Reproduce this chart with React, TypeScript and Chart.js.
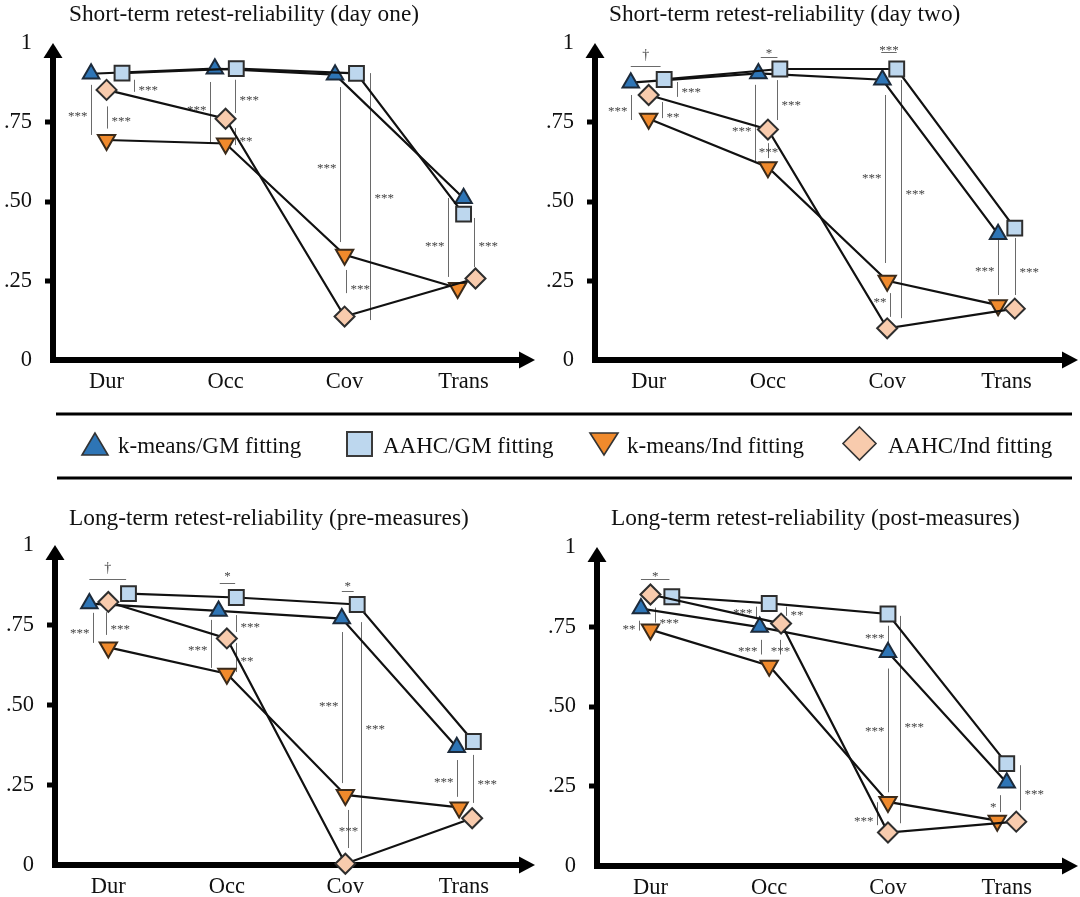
import React, { useEffect, useRef } from 'react';
import { Chart, registerables } from 'chart.js';

Chart.register(...registerables);

const FONT = '"Liberation Serif", "Times New Roman", serif';

// ---------- shared axis content ----------
const CATEGORIES = ['Dur', 'Occ', 'Cov', 'Trans'];
const Y_TICK_LABELS = ['0', '.25', '.50', '.75', '1'];
const SERIES_LABELS = ['k-means/GM fitting', 'AAHC/GM fitting', 'k-means/Ind fitting', 'AAHC/Ind fitting'];

// ---------- Short-term (day one) ----------
const DAY1_TITLE = 'Short-term retest-reliability (day one)';
const DAY1_KMEANS_GM = [0.903, 0.919, 0.9, 0.51];
const DAY1_AAHC_GM = [0.905, 0.919, 0.904, 0.46];
const DAY1_KMEANS_IND = [0.694, 0.683, 0.332, 0.227];
const DAY1_AAHC_IND = [0.852, 0.761, 0.137, 0.257];

// ---------- Short-term (day two) ----------
const DAY2_TITLE = 'Short-term retest-reliability (day two)';
const DAY2_KMEANS_GM = [0.875, 0.904, 0.884, 0.397];
const DAY2_AAHC_GM = [0.885, 0.918, 0.918, 0.416];
const DAY2_KMEANS_IND = [0.761, 0.608, 0.25, 0.173];
const DAY2_AAHC_IND = [0.836, 0.727, 0.1, 0.162];

// ---------- Long-term (pre-measures) ----------
const PRE_TITLE = 'Long-term retest-reliability (pre-measures)';
const PRE_KMEANS_GM = [0.817, 0.794, 0.77, 0.368];
const PRE_AAHC_GM = [0.848, 0.836, 0.814, 0.386];
const PRE_KMEANS_IND = [0.68, 0.598, 0.219, 0.18];
const PRE_AAHC_IND = [0.822, 0.708, 0.004, 0.146];

// ---------- Long-term (post-measures) ----------
const POST_TITLE = 'Long-term retest-reliability (post-measures)';
const POST_KMEANS_GM = [0.807, 0.749, 0.67, 0.261];
const POST_AAHC_GM = [0.844, 0.823, 0.79, 0.321];
const POST_KMEANS_IND = [0.741, 0.628, 0.201, 0.142];
const POST_AAHC_IND = [0.851, 0.76, 0.105, 0.139];

// significance marks: [category, offset, from, to, label, label side, label value]
type Sig = [number, number, number, number, string, string, number];
// brackets: [category, offset from, offset to, value, label, label value]
type Bracket = [number, number, number, number, string, number];

const DAY1_SIG: Sig[] = [
  [0, -0.13, 0.868, 0.71, '***', 'l', 0.78],
  [0, 0, 0.8, 0.73, '***', 'r', 0.763],
  [0, 0.23, 0.884, 0.846, '***', 'r', 0.861],
  [1, -0.13, 0.877, 0.684, '***', 'l', 0.798],
  [1, 0.08, 0.884, 0.779, '***', 'r', 0.829],
  [1, 0.08, 0.732, 0.678, '**', 'r', 0.7],
  [2, -0.04, 0.861, 0.372, '***', 'l', 0.615],
  [2, 0.21, 0.905, 0.126, '***', 'r', 0.52],
  [2, 0.01, 0.284, 0.211, '***', 'r', 0.234],
  [3, -0.13, 0.511, 0.262, '***', 'l', 0.369],
  [3, 0.09, 0.448, 0.293, '***', 'r', 0.37],
];
const DAY1_BRACKETS: Bracket[] = [];

const DAY2_SIG: Sig[] = [
  [0, -0.15, 0.836, 0.757, '***', 'l', 0.795],
  [0, 0.11, 0.814, 0.763, '**', 'r', 0.776],
  [0, 0.24, 0.877, 0.83, '***', 'r', 0.855],
  [1, -0.11, 0.868, 0.621, '***', 'l', 0.732],
  [1, 0.08, 0.883, 0.757, '***', 'r', 0.814],
  [1, 0, 0.684, 0.637, '***', 'c', 0.665],
  [2, -0.02, 0.836, 0.306, '***', 'l', 0.584],
  [2, 0.12, 0.883, 0.132, '***', 'r', 0.533],
  [2, 0.02, 0.211, 0.136, '**', 'l', 0.192],
  [3, -0.07, 0.385, 0.205, '***', 'l', 0.29],
  [3, 0.07, 0.385, 0.205, '***', 'r', 0.287],
];
const DAY2_BRACKETS: Bracket[] = [
  [0, -0.15, 0.1, 0.928, '†', 0.962],
  [1, -0.06, 0.08, 0.956, '*', 0.978],
  [2, -0.05, 0.08, 0.972, '***', 0.988],
];

const PRE_SIG: Sig[] = [
  [0, -0.13, 0.788, 0.694, '***', 'l', 0.734],
  [0, -0.02, 0.79, 0.719, '***', 'r', 0.747],
  [1, -0.13, 0.766, 0.616, '***', 'l', 0.681],
  [1, 0.08, 0.781, 0.728, '***', 'r', 0.753],
  [1, 0.08, 0.694, 0.603, '**', 'r', 0.647],
  [2, -0.03, 0.728, 0.256, '***', 'l', 0.506],
  [2, 0.13, 0.759, 0.037, '***', 'r', 0.434],
  [2, 0.02, 0.172, 0.053, '***', 'c', 0.115],
  [3, -0.06, 0.328, 0.213, '***', 'l', 0.269],
  [3, 0.08, 0.344, 0.194, '***', 'r', 0.262],
];
const PRE_BRACKETS: Bracket[] = [
  [0, -0.16, 0.15, 0.894, '†', 0.928],
  [1, -0.06, 0.07, 0.881, '*', 0.912],
  [2, -0.03, 0.07, 0.856, '*', 0.88],
];

const POST_SIG: Sig[] = [
  [0, -0.1, 0.769, 0.738, '**', 'l', 0.753],
  [0, 0.04, 0.81, 0.763, '***', 'r', 0.772],
  [1, -0.11, 0.813, 0.775, '***', 'l', 0.803],
  [1, 0.14, 0.813, 0.784, '**', 'r', 0.797],
  [1, -0.07, 0.709, 0.663, '***', 'l', 0.684],
  [1, 0.09, 0.709, 0.663, '***', 'c', 0.684],
  [2, 0, 0.753, 0.7, '***', 'l', 0.725],
  [2, 0, 0.619, 0.231, '***', 'l', 0.434],
  [2, 0.1, 0.784, 0.134, '***', 'r', 0.444],
  [2, -0.09, 0.2, 0.128, '***', 'l', 0.15],
  [3, -0.06, 0.222, 0.169, '*', 'l', 0.194],
  [3, 0.11, 0.316, 0.175, '***', 'r', 0.234],
];
const POST_BRACKETS: Bracket[] = [[0, -0.08, 0.16, 0.9, '*', 0.919]];

// horizontal dodge of each series' markers within a category (style, in category units)
const DAY1_DODGE = [[-0.13, -0.09, -0.08, 0], [0.13, 0.09, 0.1, 0], [0, 0, 0, -0.05], [0, 0, 0, 0.1]];
const DAY2_DODGE = [[-0.15, -0.08, -0.04, -0.07], [0.13, 0.1, 0.08, 0.07], [0, 0, 0, -0.07], [0, 0, 0, 0.07]];
const PRE_DODGE = [[-0.16, -0.07, -0.03, -0.06], [0.17, 0.08, 0.1, 0.08], [0, 0, 0, -0.04], [0, 0, 0, 0.07]];
const POST_DODGE = [[-0.08, -0.08, 0, 0], [0.18, 0, 0, 0], [0, 0, 0, -0.08], [0, 0.1, 0, 0.08]];

const SERIES_STYLE = [
  { pointStyle: 'triangle', rotation: 0, radius: 9.5, fill: '#2E75B6', stroke: '#1c2a3a' },
  { pointStyle: 'rect', rotation: 0, radius: 10.5, fill: '#BDD7EE', stroke: '#2e2e2e' },
  { pointStyle: 'triangle', rotation: 180, radius: 10, fill: '#F08A2C', stroke: '#3a2a1a' },
  { pointStyle: 'rectRot', rotation: 0, radius: 10, fill: '#F8CBAD', stroke: '#2e2e2e' },
];

const PANELS = [
  { left: 0, top: 0, axisX: 53, axisY: 360, tipTop: 43, tipRight: 535, titleX: 69, titleY: 21, title: DAY1_TITLE,
    series: [DAY1_KMEANS_GM, DAY1_AAHC_GM, DAY1_KMEANS_IND, DAY1_AAHC_IND], dodge: DAY1_DODGE, sigs: DAY1_SIG, brackets: DAY1_BRACKETS },
  { left: 540, top: 0, axisX: 55, axisY: 360, tipTop: 43, tipRight: 538, titleX: 69, titleY: 21, title: DAY2_TITLE,
    series: [DAY2_KMEANS_GM, DAY2_AAHC_GM, DAY2_KMEANS_IND, DAY2_AAHC_IND], dodge: DAY2_DODGE, sigs: DAY2_SIG, brackets: DAY2_BRACKETS },
  { left: 0, top: 497, axisX: 55, axisY: 368, tipTop: 48, tipRight: 535, titleX: 69, titleY: 28, title: PRE_TITLE,
    series: [PRE_KMEANS_GM, PRE_AAHC_GM, PRE_KMEANS_IND, PRE_AAHC_IND], dodge: PRE_DODGE, sigs: PRE_SIG, brackets: PRE_BRACKETS },
  { left: 540, top: 497, axisX: 57, axisY: 369, tipTop: 50, tipRight: 538, titleX: 71, titleY: 28, title: POST_TITLE,
    series: [POST_KMEANS_GM, POST_AAHC_GM, POST_KMEANS_IND, POST_AAHC_IND], dodge: POST_DODGE, sigs: POST_SIG, brackets: POST_BRACKETS },
];

const W = 540;
const H = 400;
const SIG_FONT = `13px ${FONT}`;

function makeDeco(p: any) {
  return {
    id: 'deco',
    beforeDatasetsDraw(chart: any) {
      const { ctx, chartArea, scales } = chart;
      const { left, right, top, bottom } = chartArea;
      const xs = scales.x;
      const ys = scales.y;
      ctx.save();
      // significance marks
      ctx.strokeStyle = '#6a6a6a';
      ctx.lineWidth = 1;
      ctx.fillStyle = '#444';
      ctx.font = SIG_FONT;
      ctx.textBaseline = 'alphabetic';
      for (const [c, dx, y1, y2, label, side, ly] of p.sigs as Sig[]) {
        const px = Math.round(xs.getPixelForValue(c + dx)) + 0.5;
        ctx.beginPath();
        ctx.moveTo(px, ys.getPixelForValue(y1));
        ctx.lineTo(px, ys.getPixelForValue(y2));
        ctx.stroke();
        const py = ys.getPixelForValue(ly) + 7;
        if (side === 'l') { ctx.textAlign = 'right'; ctx.fillText(label, px - 4, py); }
        else if (side === 'r') { ctx.textAlign = 'left'; ctx.fillText(label, px + 4, py); }
        else { ctx.textAlign = 'center'; ctx.fillText(label, px, py); }
      }
      for (const [c, d1, d2, yv, label, ly] of p.brackets as Bracket[]) {
        const py = Math.round(ys.getPixelForValue(yv)) + 0.5;
        const x1 = xs.getPixelForValue(c + d1);
        const x2 = xs.getPixelForValue(c + d2);
        ctx.beginPath();
        ctx.moveTo(x1, py);
        ctx.lineTo(x2, py);
        ctx.stroke();
        ctx.textAlign = 'center';
        ctx.font = label === '†' ? `14px ${FONT}` : SIG_FONT;
        ctx.fillText(label, (x1 + x2) / 2, ys.getPixelForValue(ly) + (label === '†' ? 4 : 7));
        ctx.font = SIG_FONT;
      }
      // axes with arrows
      ctx.fillStyle = '#000';
      const lw = 6;
      ctx.fillRect(left - lw / 2, top + 12, lw, bottom + lw / 2 - (top + 12));
      ctx.beginPath();
      ctx.moveTo(left, top);
      ctx.lineTo(left - 9.5, top + 15);
      ctx.lineTo(left + 9.5, top + 15);
      ctx.closePath();
      ctx.fill();
      ctx.fillRect(left - lw / 2, bottom - lw / 2, right - 12 - (left - lw / 2), lw);
      ctx.beginPath();
      ctx.moveTo(right, bottom);
      ctx.lineTo(right - 16, bottom - 8.5);
      ctx.lineTo(right - 16, bottom + 8.5);
      ctx.closePath();
      ctx.fill();
      ctx.restore();
    },
    afterDraw(chart: any) {
      const { ctx } = chart;
      ctx.save();
      ctx.fillStyle = '#111';
      ctx.font = `23.3px ${FONT}`;
      ctx.textAlign = 'left';
      ctx.textBaseline = 'alphabetic';
      ctx.fillText(p.title, p.titleX, p.titleY);
      ctx.restore();
    },
  };
}

function Panel({ p }: { p: any }) {
  const ref = useRef<HTMLCanvasElement>(null);
  useEffect(() => {
    const datasets = p.series.map((vals: number[], si: number) => {
      const st = SERIES_STYLE[si];
      return {
        label: SERIES_LABELS[si],
        data: vals.map((v, ci) => ({ x: ci + p.dodge[si][ci], y: v })),
        showLine: true,
        borderColor: '#111',
        borderWidth: 2.2,
        pointStyle: st.pointStyle,
        pointRotation: st.rotation,
        pointRadius: st.radius,
        pointHoverRadius: st.radius,
        pointBackgroundColor: st.fill,
        pointBorderColor: st.stroke,
        pointBorderWidth: 2,
        clip: false,
        order: 3 - si,
        tension: 0,
      };
    });
    const chart = new Chart(ref.current!, {
      type: 'line',
      data: { datasets },
      options: {
        animation: false,
        responsive: false,
        devicePixelRatio: 1,
        events: [],
        layout: {
          autoPadding: false,
          padding: { left: 0, top: p.tipTop, right: W - p.tipRight, bottom: 0 },
        },
        plugins: {
          legend: { display: false },
          tooltip: { enabled: false },
          title: { display: false },
        },
        scales: {
          x: {
            type: 'linear',
            min: -0.45,
            max: 3.6,
            afterFit: (s: any) => { s.height = H - p.axisY; },
            afterBuildTicks: (s: any) => { s.ticks = CATEGORIES.map((_, i) => ({ value: i })); },
            border: { display: false },
            grid: { display: false, drawTicks: false },
            ticks: {
              autoSkip: false,
              maxRotation: 0,
              padding: 9,
              color: '#111',
              font: { family: FONT, size: 22.5 },
              callback: (v: any) => CATEGORIES[Math.round(Number(v))] ?? '',
            },
          },
          y: {
            type: 'linear',
            min: 0,
            max: 1,
            afterFit: (s: any) => { s.width = p.axisX; },
            afterBuildTicks: (s: any) => { s.ticks = Y_TICK_LABELS.map((_, i) => ({ value: i * 0.25 })); },
            border: { display: false },
            grid: {
              display: true,
              drawOnChartArea: false,
              drawTicks: true,
              tickLength: 8,
              tickWidth: 5,
              tickColor: (c: any) => (c.tick && c.tick.value > 0 && c.tick.value < 1 ? '#000' : 'rgba(0,0,0,0)'),
              lineWidth: 0,
            },
            ticks: {
              padding: 13,
              color: '#111',
              font: { family: FONT, size: 22.5 },
              callback: (_v: any, i: number) => Y_TICK_LABELS[i],
            },
          },
        },
      },
      plugins: [makeDeco(p)],
    } as any);
    return () => chart.destroy();
  }, []);
  return (
    <canvas
      ref={ref}
      width={W}
      height={H}
      style={{ position: 'absolute', left: p.left, top: p.top, width: W, height: H }}
    />
  );
}

function Legend() {
  const textStyle: any = { fontFamily: FONT, fontSize: 23, fill: '#111' };
  return (
    <svg width={1080} height={100} style={{ position: 'absolute', left: 0, top: 397 }}>
      <rect x={56} y={15.5} width={1016} height={3} fill="#000" />
      <rect x={57} y={79.5} width={1015} height={3} fill="#000" />
      <polygon points="95,36 82,58 108,58" fill={SERIES_STYLE[0].fill} stroke="#333" strokeWidth={1.6} />
      <text x={118} y={56} style={textStyle}>{SERIES_LABELS[0]}</text>
      <rect x={347} y={35} width={25} height={24} fill={SERIES_STYLE[1].fill} stroke="#3a3a3a" strokeWidth={2} />
      <text x={383} y={56} style={textStyle}>{SERIES_LABELS[1]}</text>
      <polygon points="590,36 618,36 604,58" fill={SERIES_STYLE[2].fill} stroke="#333" strokeWidth={1.6} />
      <text x={627} y={56} style={textStyle}>{SERIES_LABELS[2]}</text>
      <polygon points="859.5,30 876,46.5 859.5,63 843,46.5" fill={SERIES_STYLE[3].fill} stroke="#333" strokeWidth={1.6} />
      <text x={888} y={56} style={textStyle}>{SERIES_LABELS[3]}</text>
    </svg>
  );
}

export default function App() {
  return (
    <div style={{ position: 'absolute', left: 0, top: 0, width: 1080, height: 897, background: '#fff', overflow: 'hidden' }}>
      {PANELS.map((p, i) => (
        <Panel key={i} p={p} />
      ))}
      <Legend />
    </div>
  );
}
